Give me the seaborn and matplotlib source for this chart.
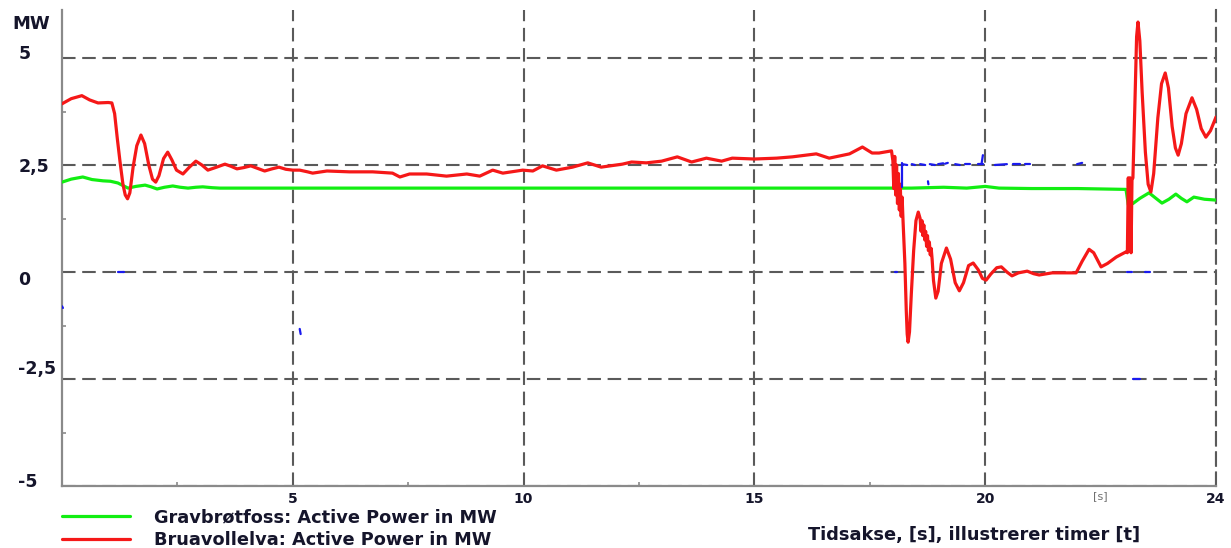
import numpy as np
import pandas as pd
import matplotlib
matplotlib.use("Agg")
import matplotlib.pyplot as plt
import seaborn as sns
from matplotlib.transforms import ScaledTranslation
from matplotlib.ticker import FixedLocator

# ---- data -------------------------------------------------------------
# Bruavollelva active power [MW] vs time [s]
red_t = [0.00, 0.20, 0.43, 0.60, 0.78, 1.00, 1.08, 1.14, 1.20, 1.26, 1.32, 1.37,
         1.42, 1.47, 1.54, 1.62, 1.71, 1.79, 1.88, 1.96, 2.03, 2.10, 2.20, 2.29,
         2.38, 2.48, 2.62, 2.76, 2.90, 3.03, 3.16, 3.35, 3.53, 3.66, 3.79, 3.94,
         4.09, 4.24, 4.39, 4.55, 4.70, 4.85, 5.00, 5.15, 5.32, 5.43, 5.74, 6.23,
         6.73, 7.16, 7.32, 7.53, 7.90, 8.33, 8.77, 9.05, 9.33, 9.55, 9.98, 10.20,
         10.41, 10.71, 11.06, 11.39, 11.68, 12.14, 12.34, 12.66, 12.99, 13.33,
         13.64, 13.96, 14.29, 14.52, 15.00, 15.48, 15.82, 16.34, 16.62, 17.06,
         17.34, 17.55, 17.70, 17.97,
         18.00, 18.02, 18.04, 18.06, 18.08, 18.10, 18.12, 18.14, 18.16, 18.18,
         18.20, 18.22, 18.26, 18.29, 18.31, 18.33, 18.36, 18.40, 18.45, 18.50,
         18.55, 18.59, 18.61, 18.63, 18.65, 18.67, 18.69, 18.71, 18.73, 18.75,
         18.77, 18.79, 18.81, 18.83, 18.85, 18.88, 18.93, 18.98, 19.05, 19.16,
         19.25, 19.35, 19.44, 19.53, 19.64, 19.74, 19.85, 19.94, 20.02, 20.12,
         20.25, 20.35, 20.47, 20.58, 20.72, 20.91, 21.05, 21.17, 21.45, 21.97,
         22.10, 22.25, 22.35, 22.51, 22.65, 22.84, 23.05,
         23.08, 23.10, 23.12, 23.14, 23.16, 23.18, 23.20, 23.24, 23.28, 23.31,
         23.35, 23.40, 23.47, 23.53, 23.59, 23.65, 23.74, 23.82, 23.90, 23.97,
         24.05, 24.12, 24.18, 24.25, 24.35, 24.48, 24.58, 24.68, 24.78, 24.88,
         25.00]
red_p = [3.93, 4.05, 4.12, 4.02, 3.95, 3.96, 3.95, 3.70, 3.10, 2.55, 2.05, 1.80,
         1.71, 1.85, 2.45, 2.95, 3.20, 3.00, 2.50, 2.17, 2.10, 2.25, 2.65, 2.80,
         2.62, 2.38, 2.29, 2.45, 2.59, 2.50, 2.38, 2.45, 2.52, 2.47, 2.41, 2.44,
         2.48, 2.42, 2.36, 2.41, 2.45, 2.40, 2.38, 2.38, 2.34, 2.31, 2.36, 2.34,
         2.34, 2.31, 2.22, 2.29, 2.29, 2.24, 2.29, 2.24, 2.38, 2.31, 2.38, 2.36,
         2.48, 2.38, 2.45, 2.55, 2.45, 2.52, 2.57, 2.55, 2.59, 2.69,
         2.57, 2.66, 2.59, 2.66, 2.64, 2.66, 2.69, 2.76, 2.66, 2.76,
         2.92, 2.78, 2.78, 2.83,
         2.60, 1.95, 2.70, 1.80, 2.50, 1.60, 2.30, 1.45, 2.05, 1.30,
         1.75, 1.20, 0.20, -0.90, -1.45, -1.64, -1.40, -0.50, 0.50, 1.20,
         1.40, 1.25, 0.95, 1.20, 0.85, 1.10, 0.75, 0.95, 0.60, 0.85,
         0.50, 0.70, 0.40, 0.55, 0.30, -0.20, -0.61, -0.45, 0.20, 0.56,
         0.30, -0.25, -0.44, -0.25, 0.15, 0.21, 0.05, -0.15, -0.19, -0.05,
         0.10, 0.12, 0.00, -0.09, -0.02, 0.02, -0.04, -0.07, -0.02, -0.02,
         0.25, 0.53, 0.45, 0.12, 0.20, 0.35, 0.47,
         0.45, 2.20, 0.50, 2.20, 0.45, 2.15, 2.20, 3.80, 5.50, 5.84,
         5.40, 4.20, 2.80, 2.05, 1.87, 2.30, 3.60, 4.40, 4.65, 4.30,
         3.40, 2.90, 2.73, 3.00, 3.70, 4.07, 3.80, 3.35, 3.15, 3.30,
         3.62]

# Gravbrøtfoss active power [MW] vs time [s]
green_t = [0.00, 0.20, 0.45, 0.65, 0.89, 1.05, 1.21, 1.32, 1.43, 1.60, 1.80, 1.93,
           2.06, 2.22, 2.40, 2.56, 2.73, 2.90, 3.05, 3.25, 3.42, 6.00, 10.00,
           14.00, 17.97, 18.40, 19.10, 19.60, 20.00, 20.30, 21.00, 22.00, 23.05,
           23.10, 23.20, 23.35, 23.55, 23.70, 23.83, 23.98, 24.13, 24.25, 24.37,
           24.52, 24.75, 25.00]
green_p = [2.10, 2.17, 2.22, 2.16, 2.13, 2.12, 2.08, 2.02, 1.96, 2.00, 2.03, 1.99,
           1.94, 1.98, 2.01, 1.98, 1.96, 1.98, 1.99, 1.97, 1.96, 1.96, 1.96,
           1.96, 1.96, 1.96, 1.98, 1.96, 2.00, 1.96, 1.95, 1.95, 1.93,
           1.57, 1.60, 1.72, 1.85, 1.72, 1.61, 1.70, 1.82, 1.72, 1.64,
           1.75, 1.70, 1.68]

# sparse third trace (fragments only)
blue_seg = [0, 0, 1, 1, 2, 2, 3, 3, 4, 4, 5, 5, 6, 6, 7, 7, 8, 8, 9, 9, 10, 10,
            11, 11, 12, 12, 13, 13, 14, 14, 15, 15, 16, 16, 17, 17, 18, 18,
            19, 19, 20, 20, 21, 21, 22, 22]
blue_t = [0.00, 0.02, 1.21, 1.34, 5.15, 5.17, 18.05, 18.09, 18.20, 18.20,
          18.20, 18.31, 18.41, 18.48, 18.59, 18.70, 18.80, 18.91, 18.98, 19.09,
          19.13, 19.19, 19.35, 19.45, 19.56, 19.67, 19.84, 19.95, 19.92, 19.95,
          20.21, 20.47, 20.60, 20.75, 20.86, 20.97, 21.99, 22.10, 23.07, 23.18,
          23.46, 23.57, 23.20, 23.35, 18.76, 18.77]
blue_p = [-0.80, -0.84, 0.00, 0.00, -1.33, -1.45, 0.00, 0.00, 2.55, 1.99,
          2.52, 2.50, 2.52, 2.50, 2.52, 2.50, 2.52, 2.50, 2.52, 2.54,
          2.53, 2.55, 2.52, 2.50, 2.52, 2.52, 2.52, 2.52, 2.52, 2.73,
          2.50, 2.52, 2.52, 2.52, 2.52, 2.52, 2.52, 2.55, 0.00, 0.00,
          0.00, 0.00, -2.50, -2.50, 2.12, 2.05]

y_ticks = [-5, -2.5, 0, 2.5, 5]
y_labels = ["-5", "-2,5", "0", "2,5", "5"]
x_ticks = [5, 10, 15, 20, 22.5, 25]
x_labels = ["5", "10", "15", "20", "[s]", "24"]

green_name = "Gravbrøtfoss: Active Power in MW"
red_name = "Bruavollelva: Active Power in MW"

# ---- style ------------------------------------------------------------
sns.set_theme(style="white")
plt.rcParams["font.family"] = ["DejaVu Sans"]
TXT = "#15152b"
GRID = "#5a5a5a"
SPINE = "#8a8a8a"

W, H = 1231, 548
fig = plt.figure(figsize=(W / 100, H / 100), dpi=100)
ax = fig.add_axes([62 / W, 1 - 486 / H, (1216 - 62) / W, (486 - 10) / H])

df_red = pd.DataFrame({"t": red_t, "p": red_p})
df_green = pd.DataFrame({"t": green_t, "p": green_p})
df_blue = pd.DataFrame({"t": blue_t, "p": blue_p, "seg": blue_seg})

sns.lineplot(data=df_green, x="t", y="p", ax=ax, color="#12ee12", lw=2.3,
             estimator=None, sort=False, label=green_name, zorder=3)
sns.lineplot(data=df_red, x="t", y="p", ax=ax, color="#f51818", lw=2.3,
             estimator=None, sort=False, label=red_name, zorder=4)
sns.lineplot(data=df_blue, x="t", y="p", units="seg", ax=ax, color="#1a1aee",
             lw=1.6, estimator=None, sort=False, zorder=5, legend=False)

ax.set_xlim(0, 25)
ax.set_ylim(-5, 5 + 48 / 42.8)
ax.set_xlabel("")
ax.set_ylabel("")

# grid
dash = (0, (6.5, 3.2))
ax.xaxis.set_major_locator(FixedLocator(x_ticks))
ax.set_xticklabels(x_labels)
ax.yaxis.set_major_locator(FixedLocator(y_ticks))
ax.set_yticklabels(y_labels)
ax.xaxis.set_minor_locator(FixedLocator([2.5, 7.5, 12.5, 17.5]))
ax.yaxis.set_minor_locator(FixedLocator([-3.75, -1.25, 1.25, 3.75]))
ax.grid(True, which="major", color=GRID, lw=1.5, linestyle=dash)
for tick in ax.xaxis.get_major_ticks():
    if tick.get_loc() == 22.5:
        tick.gridline.set_visible(False)

ax.spines["top"].set_visible(False)
ax.spines["right"].set_color(GRID)
ax.spines["right"].set_linewidth(1.5)
ax.spines["right"].set_linestyle(dash)
for s in ["left", "bottom"]:
    ax.spines[s].set_color(SPINE)
    ax.spines[s].set_linewidth(1.6)

ax.tick_params(axis="both", which="major", length=3, width=1.2, color=SPINE,
               direction="out")
ax.tick_params(axis="both", which="minor", length=3, width=1.2, color=SPINE,
               direction="in", left=True, bottom=True)
ax.tick_params(axis="y", which="major", pad=28.5)
ax.tick_params(axis="x", which="major", pad=1)

# y labels: left aligned, individually nudged
nudges_px = {"-5": 6, "-2,5": 12, "0": -6, "2,5": 0, "5": 6}
for lab in ax.get_yticklabels():
    lab.set_fontweight("bold")
    lab.set_fontsize(12.5)
    lab.set_color(TXT)
    lab.set_horizontalalignment("left")
    dy = nudges_px.get(lab.get_text(), 0) / 100
    lab.set_transform(lab.get_transform() + ScaledTranslation(0, dy, fig.dpi_scale_trans))

for lab in ax.get_xticklabels():
    if lab.get_text() == "[s]":
        lab.set_fontsize(8)
        lab.set_color("#707070")
    else:
        lab.set_fontsize(10)
        lab.set_fontweight("bold")
        lab.set_color(TXT)

fig.text(12 / W, 1 - 24 / H, "MW", fontsize=13, fontweight="bold", color=TXT,
         ha="left", va="center")
fig.text(974 / W, 1 - 535 / H, "Tidsakse, [s], illustrerer timer [t]",
         fontsize=12.8, fontweight="bold", color=TXT, ha="center", va="center")

handles, labels = ax.get_legend_handles_labels()
if ax.get_legend() is not None:
    ax.get_legend().remove()
leg = fig.legend(handles, labels, loc="upper left",
                 bbox_to_anchor=(62 / W, 1 - 508 / H), frameon=False,
                 borderpad=0, borderaxespad=0, handlelength=3.8,
                 handletextpad=1.35, labelspacing=0.3,
                 prop={"size": 12.8, "weight": "bold"})
for t in leg.get_texts():
    t.set_color(TXT)

fig.savefig("out.png", dpi=100)
